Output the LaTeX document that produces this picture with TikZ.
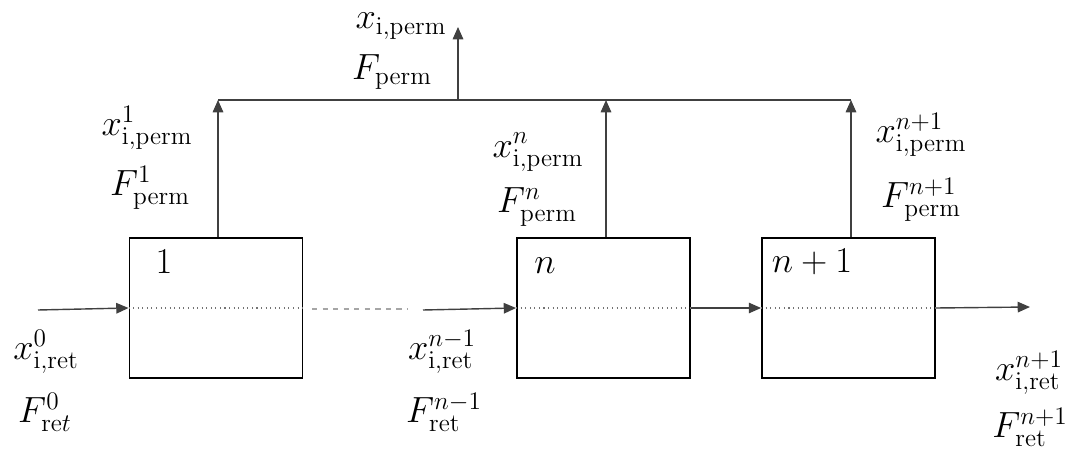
\documentclass[tikz,border=0pt]{standalone}
\usetikzlibrary{arrows.meta}
\begin{document}
\begin{tikzpicture}[x=0.02cm,y=-0.02cm,
  conn/.style={draw=black!75, line width=0.8pt},
  arr/.style={conn,-{Triangle[length=7pt,width=6pt]}},
  midline/.style={draw=black!55, line width=0.6pt, dotted},
  gapline/.style={draw=black!35, line width=0.7pt, dashed},
  stage/.style={draw=black, line width=1.1pt, minimum width=3.46cm, minimum height=2.8cm, inner sep=0pt},
  lbl/.style={font=\fontsize{20}{24}\selectfont, inner sep=0pt}]
\useasboundingbox (0,0) rectangle (1075,452);
% stages
\node[stage] (b1) at (216,308) {};
\node[stage] (bn) at (603.5,308) {};
\node[stage] (bm) at (848.5,308) {};
\node[lbl] (l1) at (164,262) {$1$};
\node[lbl] (ln) at (545,266) {$n$};
\node[lbl] (lm) at (812,262) {$n+1$};
% midlines
\draw[midline] (b1.west) -- (b1.east);
\draw[midline] (bn.west) -- (bn.east);
\draw[midline] (bm.west) -- (bm.east);
% retentate flow
\coordinate (in0) at (38,310);
\coordinate (d1) at (312,309);
\coordinate (d2) at (407,309);
\coordinate (inn) at (423,310);
\coordinate (out) at (1030,307);
\draw[arr] (in0) -- (b1.west);
\draw[gapline] (d1) -- (d2);
\draw[arr] (inn) -- (bn.west);
\draw[arr] (bn.east) -- (bm.west);
\draw[arr] (bm.east) -- (out);
% permeate collection
\coordinate (t1) at (218,100);
\coordinate (tn) at (606,100);
\coordinate (tm) at (851,100);
\coordinate (tb) at (458,100);
\coordinate (top) at (458,27);
\draw[conn] (t1) -- (tm);
\draw[arr] (b1.north -| t1) -- (t1);
\draw[arr] (bn.north -| tn) -- (tn);
\draw[arr] (bm.north -| tm) -- (tm);
\draw[arr] (tb) -- (top);
% labels
\node[lbl] (xp) at (401,26) {$x_{\mathrm{i,perm}}$};
\node[lbl] (fp) at (392,72) {$F_{\mathrm{perm}}$};
\node[lbl] (xp1) at (147,128) {$x^{1}_{\mathrm{i,perm}}$};
\node[lbl] (fp1) at (150,188) {$F^{1}_{\mathrm{perm}}$};
\node[lbl] (xpn) at (538,152) {$x^{n}_{\mathrm{i,perm}}$};
\node[lbl] (fpn) at (537,207) {$F^{n}_{\mathrm{perm}}$};
\node[lbl] (xpm) at (921,135) {$x^{n+1}_{\mathrm{i,perm}}$};
\node[lbl] (fpm) at (921,200) {$F^{n+1}_{\mathrm{perm}}$};
\node[lbl] (xr0) at (46,352) {$x^{0}_{\mathrm{i,ret}}$};
\node[lbl] (fr0) at (45,412) {$F^{0}_{\mathrm{re}t}$};
\node[lbl] (xrn) at (442,352) {$x^{n-1}_{\mathrm{i,ret}}$};
\node[lbl] (frn) at (444,412) {$F^{n-1}_{\mathrm{ret}}$};
\node[lbl] (xrm) at (1029,373) {$x^{n+1}_{\mathrm{i,ret}}$};
\node[lbl] (frm) at (1030,427) {$F^{n+1}_{\mathrm{ret}}$};
\end{tikzpicture}
\end{document}
